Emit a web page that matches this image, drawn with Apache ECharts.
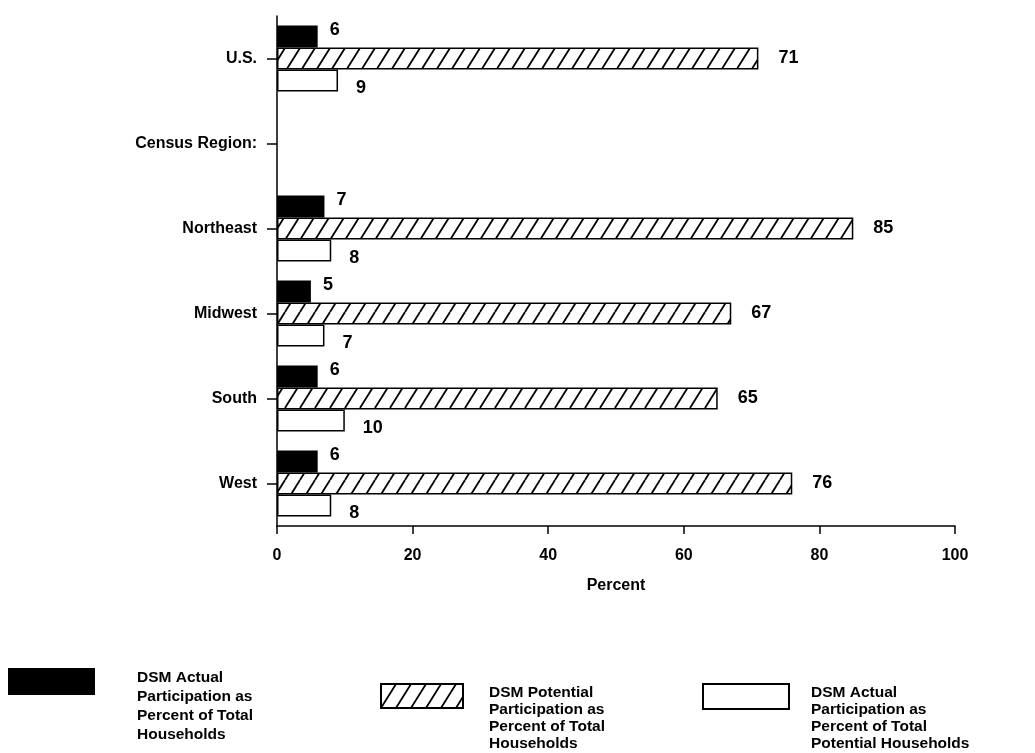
<!DOCTYPE html>
<html>
<head>
<meta charset="utf-8">
<script src="https://cdn.jsdelivr.net/npm/echarts@6/dist/echarts.min.js"></script>
<style>
  html, body { margin: 0; padding: 0; background: #fff; }
  #chart { width: 1035px; height: 753px; }
</style>
</head>
<body>
<div id="chart"></div>
<script>
const categories = ['U.S.', 'Census Region:', 'Northeast', 'Midwest', 'South', 'West'];
const actualOfTotal = [6, null, 7, 5, 6, 6];
const potentialOfTotal = [71, null, 85, 67, 65, 76];
const actualOfPotential = [9, null, 8, 7, 10, 8];
const xTicks = [0, 20, 40, 60, 80, 100];

const seriesNames = ['Actual of Total', 'Potential of Total', 'Actual of Potential'];
const legendTexts = [
  'DSM Actual\nParticipation as\nPercent of Total\nHouseholds',
  'DSM Potential\nParticipation as\nPercent of Total\nHouseholds',
  'DSM Actual\nParticipation as\nPercent of Total\nPotential Households'
];

const FONT = "'Liberation Sans', Arial, Helvetica, sans-serif";

// diagonal hatch used for the potential bars
function hatch(w, h, lw) {
  const c = document.createElement('canvas');
  c.width = w;
  c.height = h;
  const ctx = c.getContext('2d');
  ctx.fillStyle = '#fff';
  ctx.fillRect(0, 0, w, h);
  ctx.strokeStyle = '#000';
  ctx.lineWidth = lw;
  ctx.beginPath();
  [-w, 0, w].forEach(function (dx) {
    ctx.moveTo(dx, h);
    ctx.lineTo(dx + w, 0);
  });
  ctx.stroke();
  return c;
}

const labelBase = {
  show: true,
  position: 'right',
  color: '#000',
  fontFamily: FONT,
  fontWeight: 'bold',
  fontSize: 18
};

// legend swatch sits at the top of a tall item so text and box share a top edge
function legendAt(i, left, top, w, h, padLeft, lineH) {
  const boxH = lineH * 4;
  return {
    data: [seriesNames[i]],
    left: left,
    top: top,
    padding: 0,
    orient: 'vertical',
    icon: 'path://M0 0L' + w + ' 0L' + w + ' ' + h + 'L0 ' + h + 'Z M0 ' + boxH + 'L0 ' + boxH,
    itemWidth: w,
    itemHeight: boxH,
    selectedMode: false,
    formatter: function () { return legendTexts[i]; },
    textStyle: {
      color: '#000',
      fontFamily: FONT,
      fontWeight: 'bold',
      fontSize: 15.5,
      lineHeight: lineH,
      padding: [0, 0, 0, padLeft]
    }
  };
}

const chart = echarts.init(document.getElementById('chart'));
chart.setOption({
  backgroundColor: '#fff',
  animation: false,
  grid: { left: 277, right: 80, top: 16, bottom: 227 },
  xAxis: {
    type: 'value',
    min: xTicks[0],
    max: xTicks[xTicks.length - 1],
    interval: 20,
    name: 'Percent',
    nameLocation: 'middle',
    nameGap: 52,
    nameTextStyle: { color: '#000', fontFamily: FONT, fontWeight: 'bold', fontSize: 16 },
    axisLine: { show: true, lineStyle: { color: '#000', width: 1.5 } },
    axisTick: { show: true, length: 8, lineStyle: { color: '#000', width: 1.5 } },
    axisLabel: { color: '#000', fontFamily: FONT, fontWeight: 'bold', fontSize: 16, margin: 22 },
    splitLine: { show: false }
  },
  yAxis: {
    type: 'category',
    inverse: true,
    data: categories,
    axisLine: { show: true, lineStyle: { color: '#000', width: 1.5 } },
    axisTick: { show: true, alignWithLabel: true, length: 10, lineStyle: { color: '#000', width: 1.5 } },
    axisLabel: { color: '#000', fontFamily: FONT, fontWeight: 'bold', fontSize: 16, margin: 20 }
  },
  legend: [
    legendAt(0, 8, 668, 87, 27, 37, 19),
    legendAt(1, 380, 683, 82, 24, 21, 17),
    legendAt(2, 702, 683, 86, 25, 17, 17)
  ],
  series: [
    {
      name: seriesNames[0],
      type: 'bar',
      data: actualOfTotal,
      barWidth: 22,
      barGap: '0%',
      itemStyle: { color: '#000' },
      label: Object.assign({}, labelBase, { distance: 12, offset: [0, -6] })
    },
    {
      name: seriesNames[1],
      type: 'bar',
      data: potentialOfTotal,
      barWidth: 22,
      barGap: '0%',
      itemStyle: { color: { image: hatch(15, 24, 1.8), repeat: 'repeat' }, borderColor: '#000', borderWidth: 1.5 },
      label: Object.assign({}, labelBase, { distance: 20 })
    },
    {
      name: seriesNames[2],
      type: 'bar',
      data: actualOfPotential,
      barWidth: 22,
      barGap: '0%',
      itemStyle: { color: '#fff', borderColor: '#000', borderWidth: 1.5 },
      label: Object.assign({}, labelBase, { distance: 18, offset: [0, 8] })
    }
  ]
});
</script>
</body>
</html>
